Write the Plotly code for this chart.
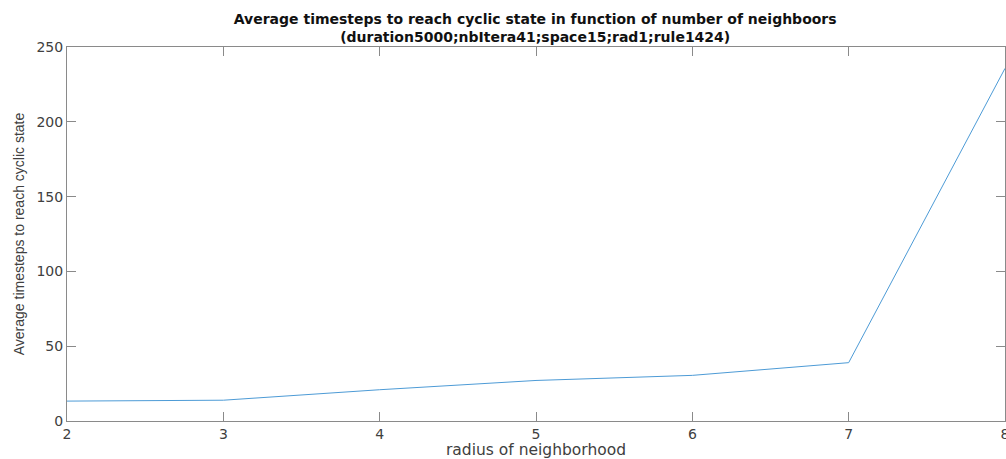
import plotly.graph_objects as go

radius = [2, 3, 4, 5, 6, 7, 8]
avg_steps = [13.3, 13.9, 20.9, 27.1, 30.5, 39.0, 235.7]
x_ticks = [2, 3, 4, 5, 6, 7, 8]
y_ticks = [0, 50, 100, 150, 200, 250]

fig = go.Figure()
fig.add_trace(go.Scatter(x=radius, y=avg_steps, mode="lines",
                         line=dict(color="#4d9bd6", width=1), showlegend=False))

axis_common = dict(showline=True, linecolor="#8a8a8a", linewidth=1, mirror="ticks",
                   ticks="inside", ticklen=9, tickcolor="#8a8a8a", tickwidth=1,
                   showgrid=False, zeroline=False, ticklabeloverflow="allow",
                   automargin=False,
                   tickfont=dict(family="DejaVu Sans", size=14, color="#404040"))

fig.update_layout(
    width=1006, height=459,
    margin=dict(l=67, r=1, t=47, b=38, autoexpand=False),
    paper_bgcolor="white", plot_bgcolor="white",
    title=dict(text="<b>Average timesteps to reach cyclic state in function of number of neighboors</b><br><b>(duration5000;nbItera41;space15;rad1;rule1424)</b>",
               x=0.532, xanchor="center", yref="container", y=0.948, yanchor="top",
               font=dict(family="DejaVu Sans", size=14, color="#111111")),
    xaxis=dict(range=[2, 8], tickvals=x_ticks, ticktext=[str(v) for v in x_ticks],
               title=dict(text="radius of neighborhood", standoff=2,
                          font=dict(family="DejaVu Sans", size=15.5, color="#404040")),
               **axis_common),
    yaxis=dict(range=[0, 250], tickvals=y_ticks, ticktext=[str(v) for v in y_ticks],
               title=dict(text="Average timesteps to reach cyclic state", standoff=8,
                          font=dict(family="Liberation Sans, Arial", size=14, color="#404040")),
               **axis_common),
)

fig.write_html("out.html")
